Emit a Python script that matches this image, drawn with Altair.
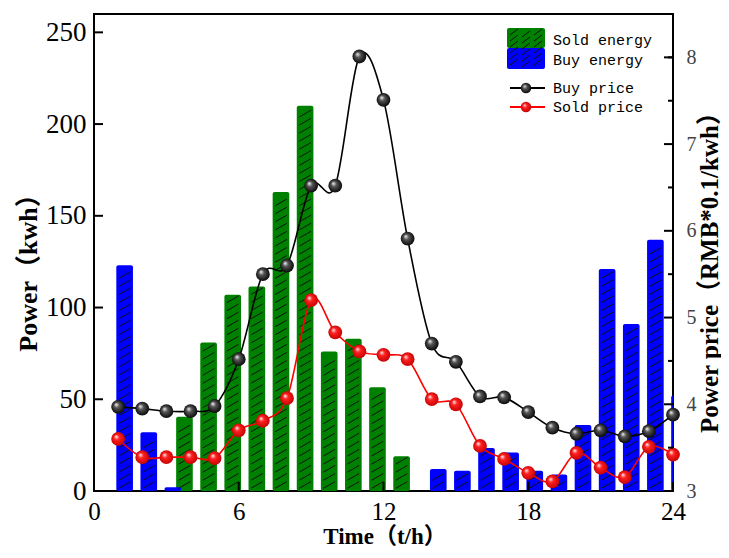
import altair as alt
import pandas as pd

# ---------------- data ----------------
HOURS = list(range(1, 25))
SOLD_HOURS = [4, 5, 6, 7, 8, 9, 10, 11, 12, 13]
SOLD_ENERGY = [40.5, 81, 107, 111.5, 163, 210, 76, 83, 56.5, 19]
BUY_HOURS = [1, 2, 3, 14, 15, 16, 17, 18, 19, 20, 21, 22, 23, 24]
BUY_ENERGY = [123, 32, 2, 12, 11, 23.5, 21, 11, 9, 36, 121, 91, 137, 52]
BUY_PRICE = [3.97, 3.95, 3.92, 3.92, 3.98, 4.52, 5.50, 5.60, 6.52, 6.52, 8.01, 7.51,
             5.91, 4.70, 4.49, 4.09, 4.08, 3.91, 3.73, 3.66, 3.70, 3.63, 3.69, 3.88]
SOLD_PRICE = [3.60, 3.39, 3.39, 3.39, 3.38, 3.70, 3.81, 4.07, 5.20, 4.83, 4.61, 4.57,
              4.52, 4.06, 4.00, 3.52, 3.37, 3.21, 3.11, 3.44, 3.27, 3.16, 3.51, 3.42]
X_TICKS = [0, 6, 12, 18, 24]
LEFT_TICKS = [0, 50, 100, 150, 200, 250]
RIGHT_TICKS = [3, 4, 5, 6, 7, 8]
RIGHT_MINOR = [3.5, 4.5, 5.5, 6.5, 7.5, 8.0]
LEGEND_LABELS = ["Sold energy", "Buy energy", "Buy price", "Sold price"]

W, H = 579, 477
SERIF = "Liberation Serif, Noto Sans CJK SC"
MONO = "Liberation Mono"

energy = pd.DataFrame({
    "hour": SOLD_HOURS + BUY_HOURS,
    "value": SOLD_ENERGY + BUY_ENERGY,
    "kind": ["Sold"] * len(SOLD_HOURS) + ["Buy"] * len(BUY_HOURS),
})
prices = pd.DataFrame({"hour": HOURS, "buy": BUY_PRICE, "sold": SOLD_PRICE})

xscale = alt.Scale(domain=[0, 24], nice=False, zero=False)
lscale = alt.Scale(domain=[0, 260], nice=False, zero=False)
rscale = alt.Scale(domain=[3, 8.5], nice=False, zero=False)

xaxis = alt.Axis(values=X_TICKS, title="Time（t/h）", ticks=False, domain=False, grid=False,
                 labelFont=SERIF, labelFontSize=25, labelColor="black", labelPadding=8,
                 titleFont=SERIF, titleFontSize=23, titleFontWeight="bold", titleColor="black",
                 titleX=W / 2 + 1, titleY=52, titleBaseline="alphabetic", titleAlign="center",
                 labelFlush=False)
laxis = alt.Axis(values=LEFT_TICKS, title="Power（kwh）", ticks=False, domain=False, grid=False,
                 labelFont=SERIF, labelFontSize=27, labelColor="black", labelPadding=8,
                 titleFont=SERIF, titleFontSize=26, titleFontWeight="bold", titleColor="black",
                 titleAngle=270, titleX=-58, titleY=252, titleBaseline="alphabetic",
                 titleAlign="center")
raxis = alt.Axis(values=RIGHT_TICKS, title="Power price（RMB*0.1/kwh）", orient="right",
                 ticks=False, domain=False, grid=False,
                 labelFont=SERIF, labelFontSize=20, labelColor="#444", labelPadding=13,
                 titleFont=SERIF, titleFontSize=25, titleFontWeight="bold", titleColor="black",
                 titleAngle=270, titleX=44, titleY=252, titleBaseline="alphabetic",
                 titleAlign="center")

base_e = alt.Chart(energy).transform_calculate(
    off="datum.kind == 'Buy' ? 0.27 : -0.25",
).transform_calculate(
    xl="datum.hour + datum.off - 0.345",
    xr="datum.hour + datum.off + 0.345",
)

bars = base_e.mark_bar(clip=True, cornerRadius=2).encode(
    x=alt.X("xl:Q", scale=xscale, axis=xaxis),
    x2="xr:Q",
    y=alt.Y("value:Q", scale=lscale, axis=laxis),
    y2=alt.datum(0),
    color=alt.Color("kind:N", scale=alt.Scale(domain=["Sold", "Buy"], range=["#008000", "#0000ff"]),
                    legend=None),
)

hatch = base_e.transform_calculate(
    ys="sequence(1.5, datum.value - 4.2, 4.4)"
).transform_flatten(["ys"]).transform_calculate(
    hx1="datum.hour + datum.off - 0.24",
    hx2="datum.hour + datum.off + 0.24",
    hy2="datum.ys + 3.6",
).mark_rule(clip=True, color="#111", strokeWidth=1).encode(
    x=alt.X("hx1:Q", scale=xscale, axis=xaxis),
    x2="hx2:Q",
    y=alt.Y("ys:Q", scale=lscale, axis=laxis),
    y2="hy2:Q",
)

lt = alt.Chart(pd.DataFrame({"v": LEFT_TICKS})).mark_rule(color="black", strokeWidth=2).encode(
    y=alt.Y("v:Q", scale=lscale, axis=laxis), x=alt.value(0), x2=alt.value(9))
xt = alt.Chart(pd.DataFrame({"v": X_TICKS})).mark_rule(color="black", strokeWidth=2).encode(
    x=alt.X("v:Q", scale=xscale, axis=xaxis), y=alt.value(H), y2=alt.value(H - 9))

left = alt.layer(bars, hatch, lt, xt)


def sphere(c_mid, c_dark):
    return alt.RadialGradient(
        gradient="radial",
        stops=[alt.GradientStop(color="white", offset=0),
               alt.GradientStop(color=c_mid, offset=0.35),
               alt.GradientStop(color=c_dark, offset=1)],
        x1=0.35, y1=0.32, r1=0, x2=0.5, y2=0.5, r2=0.55)


BLACK_S = sphere("#555", "#000")
RED_S = sphere("#ff2020", "#c00000")

pbase = alt.Chart(prices)
bline = pbase.mark_line(color="black", strokeWidth=1.6, interpolate="cardinal", tension=0).encode(
    x=alt.X("hour:Q", scale=xscale, axis=xaxis),
    y=alt.Y("buy:Q", scale=rscale, axis=raxis))
bpts = pbase.mark_circle(fill=BLACK_S, opacity=1, size=190).encode(
    x=alt.X("hour:Q", scale=xscale, axis=xaxis),
    y=alt.Y("buy:Q", scale=rscale, axis=raxis))
rline = pbase.mark_line(color="red", strokeWidth=1.6, interpolate="cardinal", tension=0).encode(
    x=alt.X("hour:Q", scale=xscale, axis=xaxis),
    y=alt.Y("sold:Q", scale=rscale, axis=raxis))
rpts = pbase.mark_circle(fill=RED_S, opacity=1, size=190).encode(
    x=alt.X("hour:Q", scale=xscale, axis=xaxis),
    y=alt.Y("sold:Q", scale=rscale, axis=raxis))

rt = alt.Chart(pd.DataFrame({"v": RIGHT_TICKS})).mark_rule(color="black", strokeWidth=2).encode(
    y=alt.Y("v:Q", scale=rscale, axis=raxis), x=alt.value(W - 9), x2=alt.value(W))
rtm = alt.Chart(pd.DataFrame({"v": RIGHT_MINOR})).mark_rule(color="black", strokeWidth=2).encode(
    y=alt.Y("v:Q", scale=rscale, axis=raxis), x=alt.value(W - 5), x2=alt.value(W))

# ---------------- legend ----------------
one = pd.DataFrame({"a": [0]})
LX0, LX1 = 413, 451
sw_g = alt.Chart(one).mark_rect(color="#008000", cornerRadius=2).encode(
    x=alt.value(LX0), x2=alt.value(LX1), y=alt.value(14), y2=alt.value(34))
sw_b = alt.Chart(one).mark_rect(color="#0000ff", cornerRadius=2).encode(
    x=alt.value(LX0), x2=alt.value(LX1), y=alt.value(34), y2=alt.value(55))
# hatch on the legend swatches (a small grid of diagonal dashes)
sw_hatch = alt.Chart(one).transform_calculate(
    r="sequence(0, 6)", c="sequence(0, 3)"
).transform_flatten(["r"]).transform_flatten(["c"]).transform_calculate(
    hx1=f"{LX0} + 3 + 12 * datum.c",
    hx2=f"{LX0} + 11 + 12 * datum.c",
    hy1="21 + 6 * datum.r + 2 * (datum.c % 2)",
    hy2="15 + 6 * datum.r + 2 * (datum.c % 2)",
).mark_rule(color="#111", strokeWidth=1).encode(
    x=alt.X("hx1:Q", scale=None), x2="hx2:Q",
    y=alt.Y("hy1:Q", scale=None), y2="hy2:Q")
leg_l1 = alt.Chart(one).mark_rule(color="black", strokeWidth=2).encode(
    x=alt.value(LX0 + 3), x2=alt.value(LX1), y=alt.value(74))
leg_p1 = alt.Chart(one).mark_circle(fill=BLACK_S, opacity=1, size=110).encode(
    x=alt.value(432), y=alt.value(74))
leg_l2 = alt.Chart(one).mark_rule(color="red", strokeWidth=2).encode(
    x=alt.value(LX0 + 3), x2=alt.value(LX1), y=alt.value(93))
leg_p2 = alt.Chart(one).mark_circle(fill=RED_S, opacity=1, size=110).encode(
    x=alt.value(432), y=alt.value(93))
leg_texts = []
for lab, yy in zip(LEGEND_LABELS, [26, 46, 74, 93]):
    leg_texts.append(
        alt.Chart(pd.DataFrame({"t": [lab]})).mark_text(
            align="left", baseline="middle", font=MONO, fontSize=15, color="black"
        ).encode(x=alt.value(459), y=alt.value(yy), text="t:N"))

right = alt.layer(bline, rline, bpts, rpts, rt, rtm, sw_g, sw_b, sw_hatch, leg_l1, leg_l2,
                  leg_p1, leg_p2, *leg_texts)

chart = alt.layer(left, right).resolve_scale(y="independent").properties(
    width=W, height=H,
    autosize=alt.AutoSizeParams(type="none"),
    padding={"left": 86, "top": 6, "right": 48, "bottom": 58},
).configure_view(stroke="black", strokeWidth=2)

chart.save("out.html", embed_options={"renderer": "svg", "actions": False})
